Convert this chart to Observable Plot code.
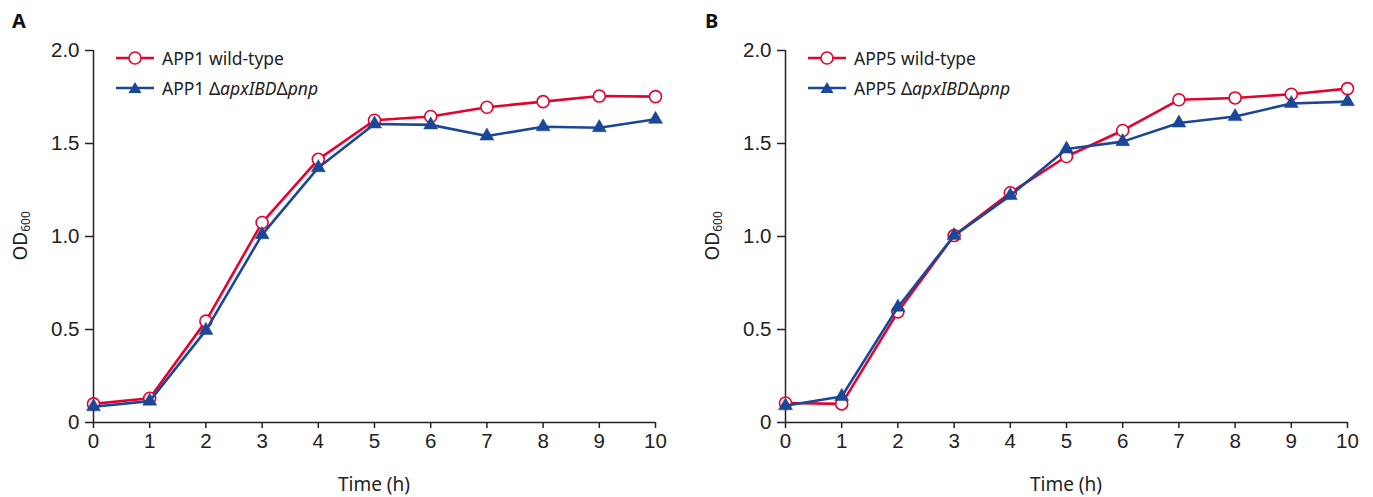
<!DOCTYPE html>
<html>
<head>
<meta charset="utf-8">
<script src="https://cdn.jsdelivr.net/npm/d3@7"></script>
<script src="https://cdn.jsdelivr.net/npm/@observablehq/plot@0.6"></script>
<style>
  html, body { margin: 0; padding: 0; background: #fff; }
  #wrap { position: relative; width: 1373px; height: 497px; overflow: hidden; font-family: "Noto Sans", sans-serif; color: #222; }
  .panel { position: absolute; top: 0; width: 686px; height: 497px; }
  .letter { position: absolute; top: 7px; font-weight: bold; font-size: 20px; color: #111; }
  .ylab { position: absolute; left: 0; top: 0; transform-origin: 0 0; font-size: 19px; white-space: nowrap; }
  .ylab sub { font-size: 12px; vertical-align: -3px; }
  .xlab { position: absolute; font-size: 19px; white-space: nowrap; transform: translateX(-50%); }
  .legend { position: absolute; font-size: 17.5px; }
  .legend .row { display: flex; align-items: center; height: 30px; }
  .legend svg { margin-right: 8px; }
  .legend i { font-style: italic; }
</style>
</head>
<body>
<div id="wrap"></div>
<script>
// ---- data ----
const hours = [0, 1, 2, 3, 4, 5, 6, 7, 8, 9, 10];
const app1WildType = [0.10, 0.13, 0.545, 1.075, 1.415, 1.625, 1.645, 1.695, 1.725, 1.755, 1.752];
const app1Mutant   = [0.085, 0.115, 0.495, 1.01, 1.37, 1.605, 1.60, 1.54, 1.59, 1.585, 1.63];
const app5WildType = [0.105, 0.10, 0.595, 1.005, 1.235, 1.43, 1.57, 1.735, 1.745, 1.765, 1.795];
const app5Mutant   = [0.09, 0.14, 0.62, 1.005, 1.22, 1.47, 1.51, 1.61, 1.645, 1.715, 1.725];
const xTicks = [0, 1, 2, 3, 4, 5, 6, 7, 8, 9, 10];
const yTicks = [0, 0.5, 1.0, 1.5, 2.0];
const yTickLabels = ["0", "0.5", "1.0", "1.5", "2.0"];
const panels = [
  {letter: "A", strain: "APP1", wt: app1WildType, mut: app1Mutant},
  {letter: "B", strain: "APP5", wt: app5WildType, mut: app5Mutant}
];
const RED = "#e4032e";
const BLUE = "#1b4797";

const wrap = document.getElementById("wrap");
const W = 686, H = 497, ML = 93, MR = 31, MT = 50, MB = 75;

panels.forEach((p, k) => {
  const left = k * 692;
  const div = document.createElement("div");
  div.className = "panel";
  div.style.left = left + "px";
  wrap.appendChild(div);

  const wt = hours.map((h, i) => ({hour: h, od: p.wt[i]}));
  const mut = hours.map((h, i) => ({hour: h, od: p.mut[i]}));

  const chart = Plot.plot({
    width: W, height: H,
    marginLeft: ML, marginRight: MR, marginTop: MT, marginBottom: MB,
    style: {fontFamily: "'Liberation Sans', Arial, sans-serif", fontSize: "20.5px", color: "#222", background: "transparent", overflow: "visible"},
    x: {domain: [0, 10]},
    y: {domain: [0, 2]},
    marks: [
      Plot.axisX(xTicks, {tickSize: 6, tickPadding: 5, strokeWidth: 1.5, label: null, tickFormat: d => String(d)}),
      Plot.axisY(yTicks, {tickSize: 8, tickPadding: 6, strokeWidth: 1.5, label: null, tickFormat: d => yTickLabels[yTicks.indexOf(d)]}),
      Plot.ruleY([0], {stroke: "#222", strokeWidth: 1.5}),
      Plot.ruleX([0], {y1: 0, y2: 2, stroke: "#222", strokeWidth: 1.5}),
      Plot.line(wt, {x: "hour", y: "od", stroke: RED, strokeWidth: 2.6}),
      Plot.dot(wt, {x: "hour", y: "od", r: 6, fill: "white", stroke: RED, strokeWidth: 1.6}),
      Plot.line(mut, {x: "hour", y: "od", stroke: BLUE, strokeWidth: 2.6}),
      Plot.dot(mut, {x: "hour", y: "od", symbol: "triangle", r: 5.2, fill: BLUE, stroke: BLUE, strokeWidth: 0.5})
    ]
  });
  chart.style.position = "absolute";
  chart.style.left = "0px";
  chart.style.top = "0px";
  div.appendChild(chart);

  const letter = document.createElement("div");
  letter.className = "letter";
  letter.style.left = (k === 0 ? 12 : 13) + "px";
  letter.textContent = p.letter;
  div.appendChild(letter);

  const ylab = document.createElement("div");
  ylab.className = "ylab";
  ylab.innerHTML = "OD<sub>600</sub>";
  div.appendChild(ylab);
  const yw = ylab.offsetWidth;
  ylab.style.transform = `translate(7px, ${236 + yw / 2}px) rotate(-90deg)`;

  const xlab = document.createElement("div");
  xlab.className = "xlab";
  xlab.style.left = (ML + (W - ML - MR) / 2) + "px";
  xlab.style.top = "471px";
  xlab.textContent = "Time (h)";
  div.appendChild(xlab);

  const leg = document.createElement("div");
  leg.className = "legend";
  leg.style.left = "116px";
  leg.style.top = "43px";
  leg.innerHTML =
    `<div class="row"><svg width="38" height="16"><line x1="0" y1="8" x2="38" y2="8" stroke="${RED}" stroke-width="2.6"/><circle cx="19" cy="8" r="6" fill="white" stroke="${RED}" stroke-width="1.6"/></svg><span>${p.strain} wild-type</span></div>` +
    `<div class="row"><svg width="38" height="16"><line x1="0" y1="8" x2="38" y2="8" stroke="${BLUE}" stroke-width="2.6"/><path d="M19,2 L25.5,13 L12.5,13 Z" fill="${BLUE}"/></svg><span>${p.strain} Δ<i>apxIBD</i>Δ<i>pnp</i></span></div>`;
  div.appendChild(leg);
});
</script>
</body>
</html>
